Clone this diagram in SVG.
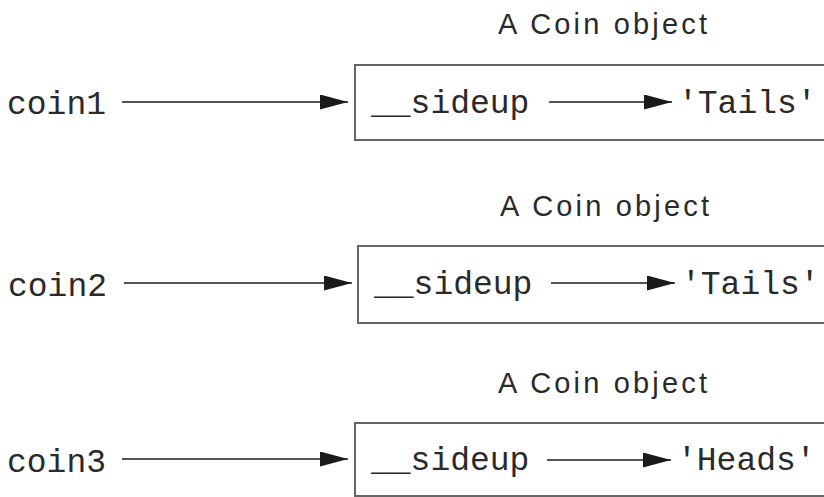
<svg xmlns="http://www.w3.org/2000/svg" width="824" height="497" viewBox="0 0 824 497">
<style>
  .mono { font-family: "Liberation Mono", "DejaVu Sans Mono", monospace; font-size: 33px; fill: #2a2a2a; }
  .lbl { font-family: "Liberation Sans", Arial, sans-serif; font-size: 29px; fill: #2a2a2a; }
  .box { fill: #ffffff; stroke: #666666; stroke-width: 2; }
  .conn { stroke: #555555; stroke-width: 2; fill: none; marker-end: url(#ah); }
</style>
<defs>
  <marker id="ah" markerUnits="userSpaceOnUse" markerWidth="28" markerHeight="15" refX="28" refY="7.5" orient="auto">
    <path d="M0,0 L28,7.5 L0,15 Z" fill="#1a1a1a"/>
  </marker>
</defs>
<rect width="824" height="497" fill="#ffffff"/>

<g id="var-coin1"><text class="mono" x="7" y="114">coin1</text></g>
<g id="var-coin2"><text class="mono" x="8" y="296">coin2</text></g>
<g id="var-coin3"><text class="mono" x="7" y="472">coin3</text></g>

<g id="obj1">
  <text class="lbl" x="498" y="34" textLength="209" lengthAdjust="spacing">A Coin object</text>
  <rect class="box" x="355" y="65" width="480" height="75"/>
  <text class="mono" x="371" y="113">__sideup</text>
</g>
<g id="obj2">
  <text class="lbl" x="500" y="216" textLength="209" lengthAdjust="spacing">A Coin object</text>
  <rect class="box" x="358" y="246" width="480" height="77"/>
  <text class="mono" x="374" y="294">__sideup</text>
</g>
<g id="obj3">
  <text class="lbl" x="498" y="393" textLength="209" lengthAdjust="spacing">A Coin object</text>
  <rect class="box" x="355" y="423" width="480" height="73"/>
  <text class="mono" x="371" y="470">__sideup</text>
</g>

<g id="val1"><text class="mono" x="678" y="113">'Tails'</text></g>
<g id="val2"><text class="mono" x="681" y="294">'Tails'</text></g>
<g id="val3"><text class="mono" x="677" y="470">'Heads'</text></g>

<g id="connectors">
  <line class="conn" x1="122" y1="102" x2="348" y2="102"/>
  <line class="conn" x1="124" y1="283" x2="352" y2="283"/>
  <line class="conn" x1="122" y1="459" x2="348" y2="459"/>
  <line class="conn" x1="549" y1="102" x2="672" y2="102"/>
  <line class="conn" x1="551" y1="283" x2="675" y2="283"/>
  <line class="conn" x1="547" y1="460" x2="671" y2="460"/>
</g>
</svg>
